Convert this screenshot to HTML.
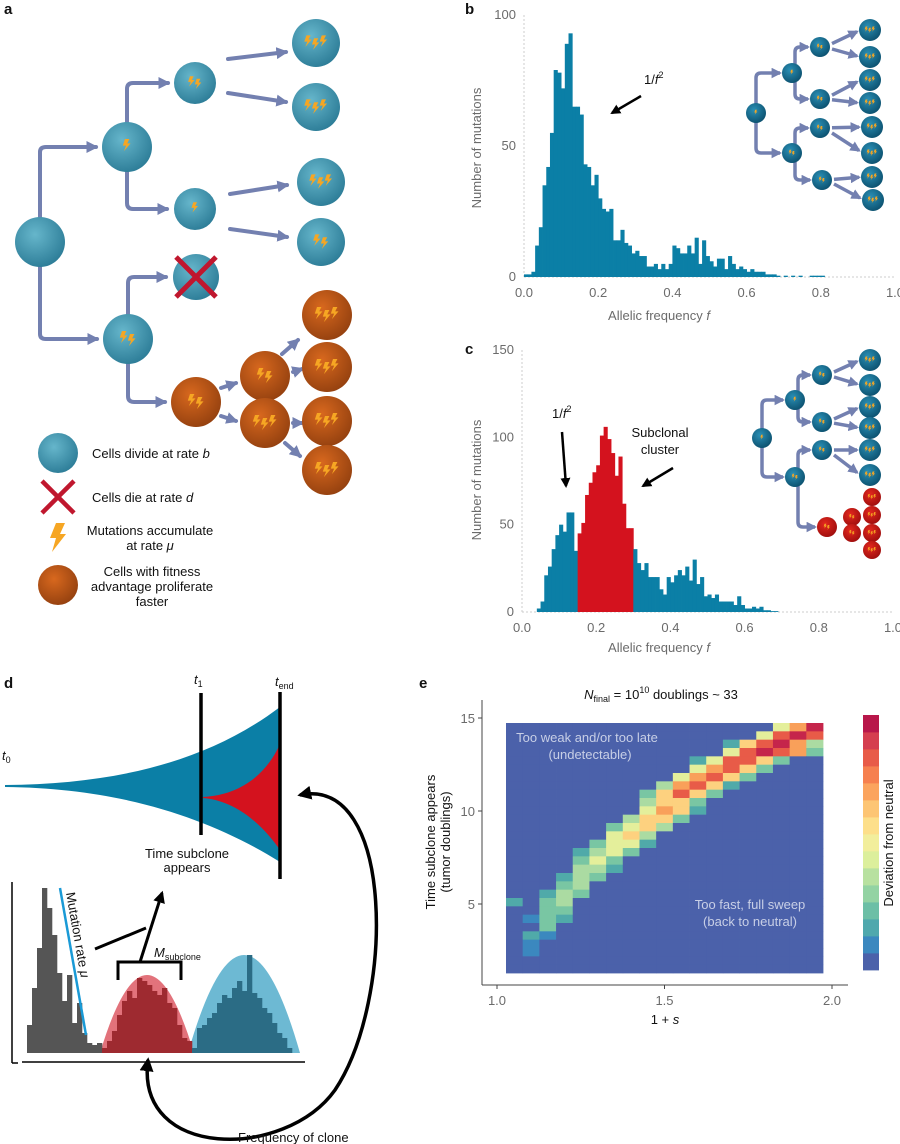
<!DOCTYPE html>
<html><head><meta charset="utf-8"><style>
html,body{margin:0;padding:0;background:#fff;width:900px;height:1144px;overflow:hidden}
svg{display:block;font-family:"Liberation Sans",sans-serif}
.tick{font-size:13px;fill:#6b6b6b}
.ttl{font-size:13px;fill:#6b6b6b}
.lbl{font-size:13px;fill:#111}
.pl{font-size:15px;font-weight:bold;fill:#111}
</style></head><body>
<svg id="fig" width="900" height="1144" viewBox="0 0 900 1144">
<defs>
<radialGradient id="gb" cx="40%" cy="35%" r="70%"><stop offset="0" stop-color="#66b6cb"/><stop offset="1" stop-color="#2b7b96"/></radialGradient>
<radialGradient id="go" cx="40%" cy="35%" r="70%"><stop offset="0" stop-color="#d8681e"/><stop offset="1" stop-color="#93400f"/></radialGradient>
<radialGradient id="gs" cx="40%" cy="35%" r="70%"><stop offset="0" stop-color="#2a8fb5"/><stop offset="1" stop-color="#0b4f6d"/></radialGradient>
<radialGradient id="gr" cx="40%" cy="35%" r="70%"><stop offset="0" stop-color="#e3281e"/><stop offset="1" stop-color="#9d0d0d"/></radialGradient>
<marker id="ah" viewBox="0 0 10 10" refX="8" refY="5" markerWidth="3" markerHeight="3" orient="auto-start-reverse"><path d="M0,0 L10,5 L0,10 Z" fill="#7380b0"/></marker>
<marker id="ak" viewBox="0 0 10 10" refX="8" refY="5" markerWidth="4" markerHeight="4" orient="auto-start-reverse"><path d="M0,0 L10,5 L0,10 Z" fill="#000"/></marker>
</defs>

<g id="pa">
<text class="pl" x="4" y="14">a</text>
<g fill="none" stroke="#7380b0" stroke-width="4" stroke-linecap="round">
<path d="M40,217 V152 Q40,147 46,147 H96" marker-end="url(#ah)"/>
<path d="M40,267 V334 Q40,339 46,339 H97" marker-end="url(#ah)"/>
<path d="M127,122 V89 Q127,83 133,83 H168" marker-end="url(#ah)"/>
<path d="M127,172 V203 Q127,209 133,209 H167" marker-end="url(#ah)"/>
<path d="M228,59 L286,52" marker-end="url(#ah)"/>
<path d="M228,93 L286,102" marker-end="url(#ah)"/>
<path d="M230,194 L287,185" marker-end="url(#ah)"/>
<path d="M230,229 L287,237" marker-end="url(#ah)"/>
<path d="M128,314 V283 Q128,277 134,277 H166" marker-end="url(#ah)"/>
<path d="M128,364 V396 Q128,402 134,402 H165" marker-end="url(#ah)"/>
<path d="M221,388 L236,383" marker-end="url(#ah)"/>
<path d="M221,416 L236,421" marker-end="url(#ah)"/>
<path d="M282,354 L298,340" marker-end="url(#ah)"/>
<path d="M293,372 L302,369" marker-end="url(#ah)"/>
<path d="M293,423 L302,423" marker-end="url(#ah)"/>
<path d="M285,443 L300,456" marker-end="url(#ah)"/>
</g>
<g id="cellsA"></g>
<g stroke="#c0172e" stroke-width="5">
<line x1="176" y1="257" x2="216" y2="297"/><line x1="216" y1="257" x2="176" y2="297"/>
</g>
<g>
<circle cx="58" cy="453" r="20" fill="url(#gb)"/>
<text class="lbl" x="92" y="458">Cells divide at rate <tspan font-style="italic">b</tspan></text>
<g stroke="#c0172e" stroke-width="4.5"><line x1="42" y1="481" x2="74" y2="513"/><line x1="74" y1="481" x2="42" y2="513"/></g>
<text class="lbl" x="92" y="502">Cells die at rate <tspan font-style="italic">d</tspan></text>
<polygon points="56,523 65,523 60,534 66,534 52,552 56,538 50,538" fill="#f6a623"/>
<text class="lbl" text-anchor="middle"><tspan x="150" y="535">Mutations accumulate</tspan><tspan x="150" y="550">at rate <tspan font-style="italic">μ</tspan></tspan></text>
<circle cx="58" cy="585" r="20" fill="url(#go)"/>
<text class="lbl" text-anchor="middle"><tspan x="152" y="576">Cells with fitness</tspan><tspan x="152" y="591">advantage proliferate</tspan><tspan x="152" y="606">faster</tspan></text>
</g>
</g>

<g>
<text class="pl" x="465" y="14">b</text>
<g id="histB"></g>
<text class="ttl" transform="translate(481,148) rotate(-90)" text-anchor="middle">Number of mutations</text>
<text class="ttl" x="659" y="320" text-anchor="middle">Allelic frequency <tspan font-style="italic">f</tspan></text>
<text class="lbl" x="644" y="84">1/<tspan font-style="italic">f</tspan><tspan font-size="9" dy="-6">2</tspan></text>
<line x1="641" y1="96" x2="612" y2="113" stroke="#000" stroke-width="2.5" marker-end="url(#ak)"/>
<g id="treeB"></g>
</g>

<g>
<text class="pl" x="465" y="354">c</text>
<g id="histC"></g>
<text class="ttl" transform="translate(481,480) rotate(-90)" text-anchor="middle">Number of mutations</text>
<text class="ttl" x="659" y="652" text-anchor="middle">Allelic frequency <tspan font-style="italic">f</tspan></text>
<text class="lbl" x="552" y="418">1/<tspan font-style="italic">f</tspan><tspan font-size="9" dy="-6">2</tspan></text>
<line x1="562" y1="432" x2="566" y2="486" stroke="#000" stroke-width="2.5" marker-end="url(#ak)"/>
<text class="lbl" text-anchor="middle"><tspan x="660" y="437">Subclonal</tspan><tspan x="660" y="454">cluster</tspan></text>
<line x1="673" y1="468" x2="643" y2="486" stroke="#000" stroke-width="2.5" marker-end="url(#ak)"/>
<g id="treeC"></g>
</g>

<g>
<text class="pl" x="4" y="688">d</text>
<text class="lbl" x="2" y="760"><tspan font-style="italic">t</tspan><tspan font-size="9" dy="3">0</tspan></text>
<text class="lbl" x="194" y="684"><tspan font-style="italic">t</tspan><tspan font-size="9" dy="3">1</tspan></text>
<text class="lbl" x="275" y="686"><tspan font-style="italic">t</tspan><tspan font-size="9" dy="3">end</tspan></text>
<path d="M5,785 C120,784 210,760 280,707 L280,862 C210,818 120,788 5,787 Z" fill="#0b7fa6"/>
<path d="M203,797 C240,795 266,775 280,744 L280,850 C266,830 240,801 203,798 Z" fill="#d4121e"/>
<line x1="201" y1="693" x2="201" y2="835" stroke="#000" stroke-width="3.5"/>
<line x1="280" y1="692" x2="280" y2="879" stroke="#000" stroke-width="3.5"/>
<text class="lbl" text-anchor="middle" font-size="13"><tspan x="187" y="858">Time subclone</tspan><tspan x="187" y="872">appears</tspan></text>
<g id="histD"></g>
<line x1="12" y1="882" x2="12" y2="1063" stroke="#000" stroke-width="1.5"/>
<line x1="12" y1="1063" x2="18" y2="1063" stroke="#000" stroke-width="1.5"/>
<line x1="22" y1="1062" x2="305" y2="1062" stroke="#000" stroke-width="1.5"/>
<line x1="60" y1="888" x2="86" y2="1035" stroke="#1a9ad6" stroke-width="2.5"/>
<text class="lbl" transform="translate(66,893) rotate(80)">Mutation rate <tspan font-style="italic">μ</tspan></text>
<path d="M118,980 V962 H181 V980" fill="none" stroke="#000" stroke-width="3"/>
<line x1="140" y1="962" x2="162" y2="893" stroke="#000" stroke-width="3" marker-end="url(#ak)"/>
<line x1="95" y1="949" x2="146" y2="928" stroke="#000" stroke-width="3"/>
<text class="lbl" x="154" y="957"><tspan font-style="italic">M</tspan><tspan font-size="9" dy="3">subclone</tspan></text>
<path d="M300,795 C395,775 395,1000 335,1090 C285,1160 135,1160 148,1060" fill="none" stroke="#000" stroke-width="3.5" marker-start="url(#ak)" marker-end="url(#ak)"/>
<text class="lbl" x="238" y="1142">Frequency of clone</text>
</g>

<g>
<text class="pl" x="419" y="688">e</text>
<text class="lbl" x="661" y="699" text-anchor="middle"><tspan font-style="italic">N</tspan><tspan font-size="9" dy="3">final</tspan><tspan dy="-3"> = 10</tspan><tspan font-size="9" dy="-6">10</tspan><tspan dy="6"> doublings ~ 33</tspan></text>
<g id="heat"></g>
<text x="587" y="742" text-anchor="middle" font-size="13" fill="#c8cfe6">Too weak and/or too late</text>
<text x="590" y="759" text-anchor="middle" font-size="13" fill="#c8cfe6">(undetectable)</text>
<text x="750" y="909" text-anchor="middle" font-size="13" fill="#c8cfe6">Too fast, full sweep</text>
<text x="750" y="926" text-anchor="middle" font-size="13" fill="#c8cfe6">(back to neutral)</text>
<text class="lbl" transform="translate(435,842) rotate(-90)" text-anchor="middle">Time subclone appears</text>
<text class="lbl" transform="translate(450,842) rotate(-90)" text-anchor="middle">(tumor doublings)</text>
<text class="lbl" x="665" y="1024" text-anchor="middle">1 + <tspan font-style="italic">s</tspan></text>
<g id="cbar"></g>
<text class="lbl" transform="translate(893,843) rotate(-90)" text-anchor="middle">Deviation from neutral</text>
</g>
</svg>
<script>
// ---------- data ----------
const binsB = [1,1,2,12,19,35,42,55,79,78,72,89,93,65,65,62,43,42,35,39,30,26,25,26,14,14,18,13,12,9,10,8,8,4,4,5,3,5,3,5,12,11,9,9,12,9,15,5,14,8,6,4,7,7,3,8,5,3,4,3,2,3,2,2,2,1,1,1,0.5,0,0.5,0,0.5,0,0.5,0,0,0.5,0.5,0.5,0.5];
const binsC = [0,0,0,0,2,6,21,26,36,44,50,46,57,57,35,45,51,67,74,80,84,101,106,99,91,78,89,62,48,48,36,28,24,28,20,20,20,13,10,20,17,21,24,21,26,18,30,16,20,9,10,8,10,6,6,6,6,4,9,4,2,2,3,2,3,1,1,0.5,0.5];
const redStart = 15, redEnd = 29;
const ticksB = [0,50,100], ticksC = [0,50,100,150];
const xTicks = ["0.0","0.2","0.4","0.6","0.8","1.0"];
const greyD = [28,65,105,165,145,118,80,52,78,30,50,20,10,8,10];
const redD = [5,12,22,38,52,62,55,75,72,68,62,58,65,50,45,28,15,12];
const blueD = [5,25,28,35,40,50,58,55,65,72,62,98,60,55,45,40,30,20,15,5];
const heatRows = [
"0000000000000000579",
"0000000000000005898",
"0000000000000268974",
"0000000000000589873",
"0000000000025886300",
"0000000000057863000",
"0000000000578630000",
"0000000004786200000",
"0000000036863000000",
"0000000046630000000",
"0000000057620000000",
"0000000466300000000",
"0000003564000000000",
"0000005640000000000",
"0000035520000000000",
"0000245300000000000",
"0000353000000000000",
"0000442000000000000",
"0002430000000000000",
"0003400000000000000",
"0024300000000000000",
"2034000000000000000",
"0033000000000000000",
"0132000000000000000",
"0030000000000000000",
"0210000000000000000",
"0100000000000000000",
"0100000000000000000",
"0000000000000000000",
"0000000000000000000"];
const yTicksE = [5,10,15], xTicksE = ["1.0","1.5","2.0"];
const palette = ["#4b61aa","#3b88bf","#50aaa9","#79c6a3","#abdba2","#e4ef9b","#fdd17f","#f9a05a","#e85b48","#c5254b"];
const cbarColors = ["#4b61aa","#3b88bf","#4fa8ad","#6cbfa6","#93d3a3","#b8e1a0","#dcef9c","#f2ee9c","#fddf8a","#fdc574","#fba45e","#f6804f","#e85b48","#d53e4f","#b8174a"];

const NS="http://www.w3.org/2000/svg";
function mk(tag, attrs, parent){const e=document.createElementNS(NS,tag);for(const k in attrs)e.setAttribute(k,attrs[k]);parent.appendChild(e);return e;}
function bolt(g,x,y,s){const p=[[0,0],[4,0],[2,4],[5,4],[-1,11],[1,6],[-2,6]].map(q=>(x+q[0]*s)+","+(y+q[1]*s)).join(" ");mk("polygon",{points:p,fill:"#f6a623"},g);}
function cell(g,x,y,r,grad,n,name){const c=mk("circle",{cx:x,cy:y,r:r,fill:"url(#"+grad+")"},g);


const s=r/25;for(let i=0;i<n;i++){bolt(g,x-(n-1)*4*s+i*8*s-2*s,y-8*s+(i%2)*3*s,s*1.1);}}

// ---------- histogram b / c ----------
function hist(id,bins,x0,x1,y0,yTop,maxV,ticks,redFrom,redTo){
const g=document.getElementById(id);
const xs=v=>x0+(x1-x0)*v, ys=v=>y0-(y0-yTop)*v/maxV;
mk("line",{x1:x0,y1:yTop,x2:x0,y2:y0,stroke:"#ccc","stroke-dasharray":"2,2"},g);
mk("line",{x1:x0,y1:y0,x2:x1,y2:y0,stroke:"#ccc","stroke-dasharray":"2,2"},g);
bins.forEach((v,i)=>{if(v<=0)return;const red=redFrom!=null&&i>=redFrom&&i<=redTo;
const r=mk("rect",{x:xs(i*0.01),y:ys(v),width:(x1-x0)*0.01+0.4,height:y0-ys(v),fill:red?"#d4121e":"#0b7fa6"},g);

});
ticks.forEach(t=>{const tx=mk("text",{x:x0-8,y:ys(t)+4,"text-anchor":"end",class:"tick"},g);tx.textContent=t;

});
xTicks.forEach((t,i)=>{const tx=mk("text",{x:xs(i*0.2),y:y0+20,"text-anchor":"middle",class:"tick"},g);tx.textContent=t;

});
}
hist("histB",binsB,524,895,277,15,100,ticksB,null,null);
hist("histC",binsC,522,893,612,350,150,ticksC,redStart,redEnd);

// ---------- panel a cells ----------
const ga=document.getElementById("cellsA");
cell(ga,40,242,25,"gb",0,"root-cell");
cell(ga,127,147,25,"gb",1,"cell");
cell(ga,195,83,21,"gb",2,"cell");
cell(ga,195,209,21,"gb",1,"cell");
cell(ga,316,43,24,"gb",3,"leaf-cell");
cell(ga,316,107,24,"gb",3,"leaf-cell");
cell(ga,321,182,24,"gb",3,"leaf-cell");
cell(ga,321,242,24,"gb",2,"leaf-cell");
cell(ga,196,277,23,"gb",0,"dead-cell");
cell(ga,128,339,25,"gb",2,"cell");
cell(ga,196,402,25,"go",2,"fit-cell");
cell(ga,265,376,25,"go",2,"fit-cell");
cell(ga,265,423,25,"go",3,"fit-cell");
[315,367,421,470].forEach((y,i)=>cell(ga,327,y,25,"go",3,"fit-leaf-cell"));

// ---------- inset trees ----------
function inset(id,root,l2,l3,leaves,reds){
const g=document.getElementById(id);
const st={fill:"none",stroke:"#7380b0","stroke-width":3.5,"marker-end":"url(#ah)"};
const branch=(a,b,c)=>{mk("path",Object.assign({d:`M${a[0]},${a[1]-9} V${b[1]+5} Q${a[0]},${b[1]} ${a[0]+5},${b[1]} H${b[0]-12}`},st),g);
mk("path",Object.assign({d:`M${a[0]},${a[1]+9} V${c[1]-5} Q${a[0]},${c[1]} ${a[0]+5},${c[1]} H${c[0]-12}`},st),g);};
branch(root,l2[0],l2[1]);branch([l2[0][0]+3,l2[0][1]],l3[0],l3[1]);branch([l2[1][0]+3,l2[1][1]],l3[2],l3[3]);
l3.forEach((p,i)=>{if(!leaves[i])return;leaves[i].forEach(q=>mk("line",{x1:p[0]+12,y1:p[1]+(q[1]-p[1])*0.2,x2:q[0]-13,y2:q[1]-(q[1]-p[1])*0.1,stroke:"#7380b0","stroke-width":3.5,"marker-end":"url(#ah)"},g));});
cell(g,root[0],root[1],10,"gs",1,"inset-cell");
l2.forEach((p,i)=>cell(g,p[0],p[1],10,"gs",i+1,"inset-cell"));
l3.forEach((p,i)=>cell(g,p[0],p[1],10,p[2]?"gr":"gs",2,"inset-cell"));
leaves.forEach(arr=>arr&&arr.forEach(q=>cell(g,q[0],q[1],11,q[2]?"gr":"gs",3,"inset-leaf-cell")));
}
inset("treeB",[756,113],[[792,73],[792,153]],[[820,47],[820,99],[820,128],[822,180]],
 [[[870,30],[870,57]],[[870,80],[870,103]],[[872,127],[872,153]],[[872,177],[873,200]]]);
inset("treeC",[762,438],[[795,400],[795,477]],[[822,375],[822,422],[822,450],[827,527,1]],
 [[[870,360],[870,385]],[[870,407],[870,428]],[[870,450],[870,475]],null]);
(function(){const g=document.getElementById("treeC");
[[852,517],[852,533]].forEach(p=>cell(g,p[0],p[1],9,"gr",2,"inset-red-cell"));
[497,515,533,550].forEach(y=>cell(g,872,y,9,"gr",3,"inset-red-leaf"));})();

// ---------- panel d histogram ----------
(function(){const g=document.getElementById("histD");const base=1053,w=5;
mk("path",{d:"M100,1053 Q147,897 194,1053 Z",fill:"#e2727b"},g);
mk("path",{d:"M188,1053 Q244,857 300,1053 Z",fill:"#6db9d3"},g);
const draw=(arr,x0,col,nm)=>arr.forEach((v,i)=>{const r=mk("rect",{x:x0+i*w,y:base-v,width:w+0.3,height:v,fill:col},g);

});
draw(greyD,27,"#555","bar-neutral");draw(redD,102,"#9e2a30","bar-subclone");draw(blueD,192,"#2b6c85","bar-clonal");})();

// ---------- heatmap ----------
(function(){const g=document.getElementById("heat");
const xE=v=>497+(832-497)*(v-1), yE=v=>904-(v-5)*18.6;
const cx0=506,cx1=823,cy0=723,cy1=973;const nr=heatRows.length,nc=heatRows[0].length;
const cw=(cx1-cx0)/nc,ch=(cy1-cy0)/nr;
heatRows.forEach((row,r)=>{for(let c=0;c<nc;c++){const v=+row[c];
const e=mk("rect",{x:cx0+c*cw,y:cy0+r*ch,width:cw+0.4,height:ch+0.4,fill:palette[v]},g);

}});
mk("line",{x1:482,y1:700,x2:482,y2:985,stroke:"#444","stroke-width":1},g);
mk("line",{x1:482,y1:985,x2:848,y2:985,stroke:"#444","stroke-width":1},g);
yTicksE.forEach(t=>{mk("line",{x1:478,y1:yE(t),x2:482,y2:yE(t),stroke:"#444"},g);
const tx=mk("text",{x:475,y:yE(t)+5,"text-anchor":"end",class:"tick"},g);tx.textContent=t;

});
xTicksE.forEach(t=>{mk("line",{x1:xE(+t),y1:985,x2:xE(+t),y2:989,stroke:"#444"},g);
const tx=mk("text",{x:xE(+t),y:1005,"text-anchor":"middle",class:"tick"},g);tx.textContent=t;

});
const cb=document.getElementById("cbar");const n=cbarColors.length,h=(970-715)/n;
cbarColors.forEach((c,i)=>{const e=mk("rect",{x:863,y:970-(i+1)*h,width:16,height:h+0.4,fill:c},cb);

});})();
</script>
</body></html>
